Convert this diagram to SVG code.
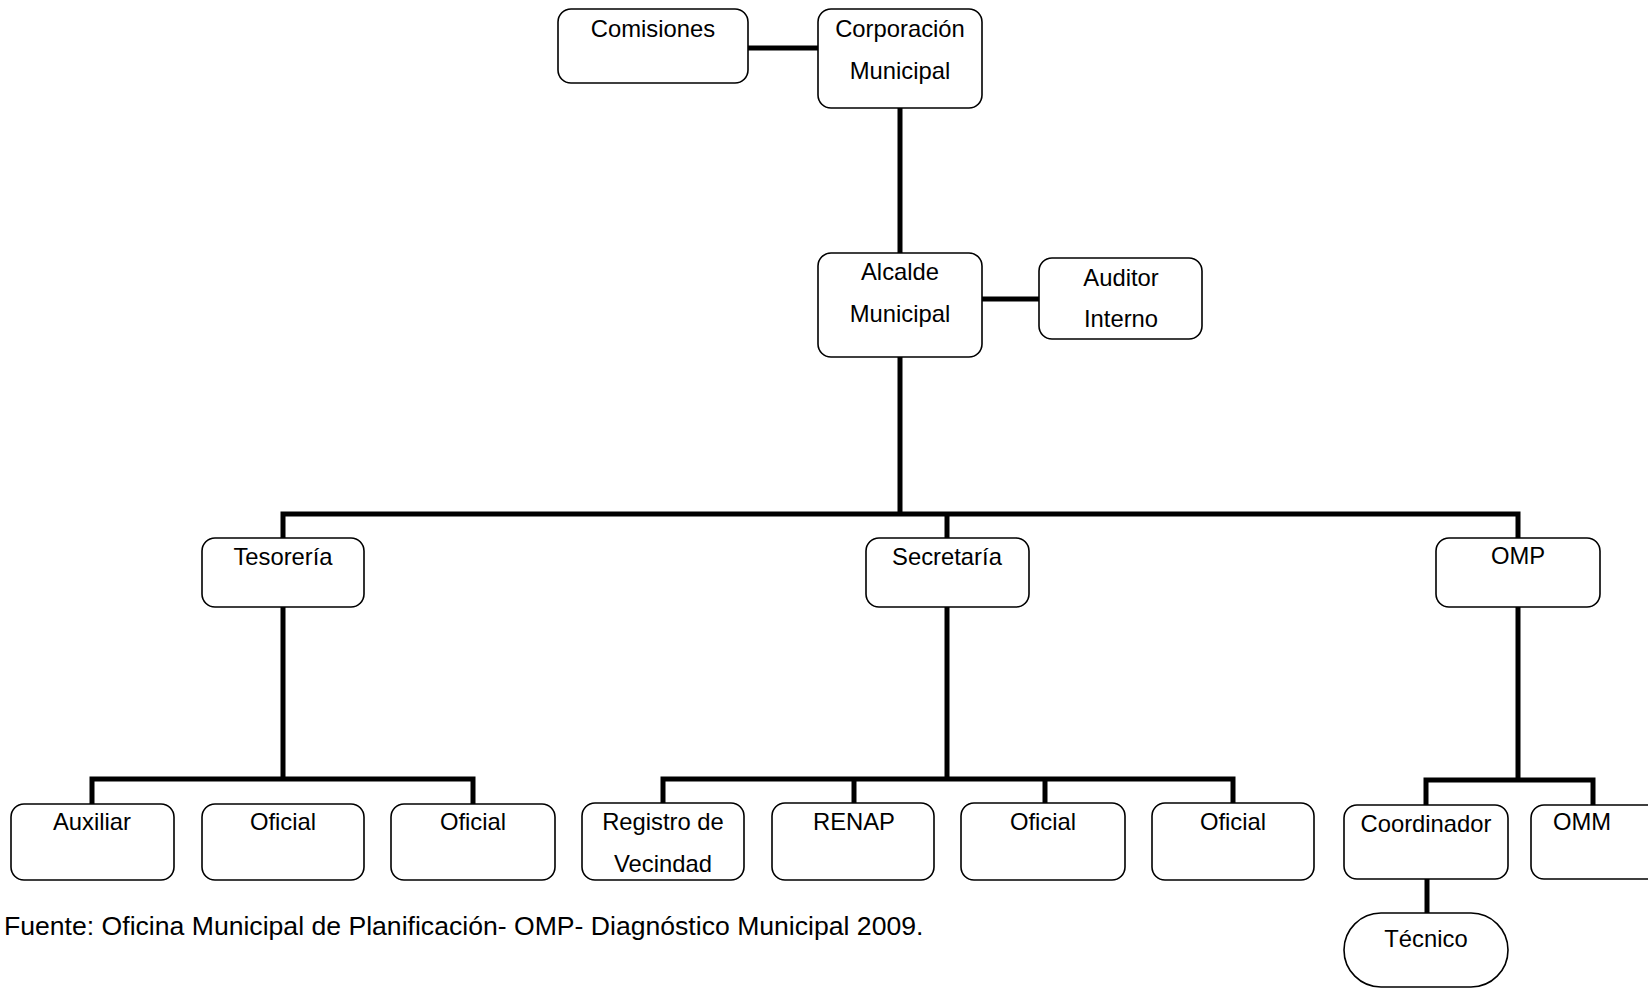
<svg xmlns="http://www.w3.org/2000/svg" width="1648" height="988" viewBox="0 0 1648 988">
  <style>
    .box { fill: #ffffff; stroke: #000000; stroke-width: 1.6; }
    .lbl { font-family: "Liberation Sans", Arial, sans-serif; font-size: 23.8px; fill: #000000; text-anchor: middle; }
    .note { font-family: "Liberation Sans", Arial, sans-serif; font-size: 26.6px; fill: #000000; }
    .wire { fill: none; stroke: #000000; stroke-width: 5; stroke-linecap: butt; stroke-linejoin: miter; }
  </style>
  <rect width="1648" height="988" fill="#ffffff"/>

  <!-- connectors -->
  <g id="connectors" class="wire">
    <path d="M748 48 H818"/>
    <path d="M900 108 V253"/>
    <path d="M982 299 H1039"/>
    <path d="M900 357 V514"/>
    <path d="M283 538 V514 H1518 V538"/>
    <path d="M947 514 V538"/>
    <path d="M283 607 V779"/>
    <path d="M92 804 V779 H473 V804"/>
    <path d="M947 607 V781"/>
    <path d="M663 803 V779 H1233 V803"/>
    <path d="M854 779 V803"/>
    <path d="M1045 779 V803"/>
    <path d="M1518 607 V781"/>
    <path d="M1426 805 V780 H1593 V805"/>
    <path d="M1427 879 V913"/>
  </g>

  <g id="comisiones">
    <rect class="box" x="558" y="9" width="190" height="74" rx="13"/>
    <text class="lbl" x="653" y="37">Comisiones</text>
  </g>
  <g id="corporacion">
    <rect class="box" x="818" y="9" width="164" height="99" rx="13"/>
    <text class="lbl" x="900" y="37">Corporación</text>
    <text class="lbl" x="900" y="79">Municipal</text>
  </g>
  <g id="alcalde">
    <rect class="box" x="818" y="253" width="164" height="104" rx="13"/>
    <text class="lbl" x="900" y="280">Alcalde</text>
    <text class="lbl" x="900" y="322">Municipal</text>
  </g>
  <g id="auditor">
    <rect class="box" x="1039" y="258" width="163" height="81" rx="13"/>
    <text class="lbl" x="1121" y="286">Auditor</text>
    <text class="lbl" x="1121" y="327">Interno</text>
  </g>

  <g id="tesoreria">
    <rect class="box" x="202" y="538" width="162" height="69" rx="13"/>
    <text class="lbl" x="283" y="565">Tesorería</text>
  </g>
  <g id="secretaria">
    <rect class="box" x="866" y="538" width="163" height="69" rx="13"/>
    <text class="lbl" x="947" y="565">Secretaría</text>
  </g>
  <g id="omp">
    <rect class="box" x="1436" y="538" width="164" height="69" rx="13"/>
    <text class="lbl" x="1518" y="564">OMP</text>
  </g>

  <g id="auxiliar">
    <rect class="box" x="11" y="804" width="163" height="76" rx="13"/>
    <text class="lbl" x="92" y="830">Auxiliar</text>
  </g>
  <g id="oficial-t1">
    <rect class="box" x="202" y="804" width="162" height="76" rx="13"/>
    <text class="lbl" x="283" y="830">Oficial</text>
  </g>
  <g id="oficial-t2">
    <rect class="box" x="391" y="804" width="164" height="76" rx="13"/>
    <text class="lbl" x="473" y="830">Oficial</text>
  </g>

  <g id="registro">
    <rect class="box" x="582" y="803" width="162" height="77" rx="13"/>
    <text class="lbl" x="663" y="830">Registro de</text>
    <text class="lbl" x="663" y="872">Vecindad</text>
  </g>
  <g id="renap">
    <rect class="box" x="772" y="803" width="162" height="77" rx="13"/>
    <text class="lbl" x="854" y="830">RENAP</text>
  </g>
  <g id="oficial-s1">
    <rect class="box" x="961" y="803" width="164" height="77" rx="13"/>
    <text class="lbl" x="1043" y="830">Oficial</text>
  </g>
  <g id="oficial-s2">
    <rect class="box" x="1152" y="803" width="162" height="77" rx="13"/>
    <text class="lbl" x="1233" y="830">Oficial</text>
  </g>

  <g id="coordinador">
    <rect class="box" x="1344" y="805" width="164" height="74" rx="13"/>
    <text class="lbl" x="1426" y="832">Coordinador</text>
  </g>
  <g id="omm">
    <rect class="box" x="1531" y="805" width="164" height="74" rx="13"/>
    <text class="lbl" x="1582" y="830">OMM</text>
  </g>
  <g id="tecnico">
    <rect class="box" x="1344" y="913" width="164" height="74" rx="37"/>
    <text class="lbl" x="1426" y="947">Técnico</text>
  </g>

  <text class="note" x="4" y="935">Fuente: Oficina Municipal de Planificación- OMP- Diagnóstico Municipal 2009.</text>
</svg>
